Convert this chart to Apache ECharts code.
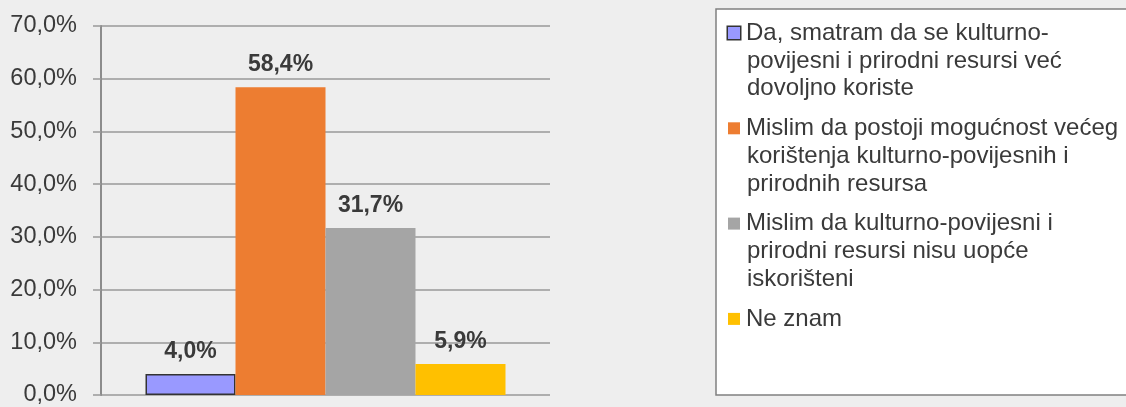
<!DOCTYPE html>
<html>
<head>
<meta charset="utf-8">
<script src="https://cdn.jsdelivr.net/npm/echarts@6/dist/echarts.min.js"></script>
<style>
  html, body { margin: 0; padding: 0; background: #eeeeee; }
  #chart { width: 1126px; height: 407px; }
</style>
</head>
<body>
<div id="chart"></div>
<script>
// odgovori i postoci
var names = [
  'Da, smatram da se kulturno-povijesni i prirodni resursi već dovoljno koriste',
  'Mislim da postoji mogućnost većeg korištenja kulturno-povijesnih i prirodnih resursa',
  'Mislim da kulturno-povijesni i prirodni resursi nisu uopće iskorišteni',
  'Ne znam'
];
// kako se tekst lomi u legendi
var legendLines = [
  ['Da, smatram da se kulturno-', 'povijesni i prirodni resursi već', 'dovoljno koriste'],
  ['Mislim da postoji mogućnost većeg', 'korištenja kulturno-povijesnih i', 'prirodnih resursa'],
  ['Mislim da kulturno-povijesni i', 'prirodni resursi nisu uopće', 'iskorišteni'],
  ['Ne znam']
];
var values = [4.0, 58.4, 31.7, 5.9];
var colors = ['#9999ff', '#ed7d31', '#a5a5a5', '#ffc000'];
var yTicks = [0, 10, 20, 30, 40, 50, 60, 70];

var font = 'Liberation Sans, Arial, sans-serif';
var lh = 27.9;

function pct(v) {
  return v.toFixed(1).replace('.', ',') + '%';
}

var rich = {
  t: { fontSize: 24, lineHeight: lh, color: '#3a3a3a', fontFamily: font },
  g: { width: 6, height: 1, lineHeight: lh },
  p: { width: 19, height: 1, lineHeight: lh }
};
for (var i = 0; i < colors.length; i++) {
  rich['s' + i] = { width: 12, height: 12, lineHeight: lh, backgroundColor: colors[i] };
}
rich.s0.borderColor = '#333';
rich.s0.borderWidth = 1.5;

var series = [];
for (var i = 0; i < names.length; i++) {
  series.push({
    name: names[i],
    type: 'bar',
    barWidth: 90,
    barGap: '0%',
    data: [values[i]],
    itemStyle: i == 0 ? { color: colors[i], borderColor: '#333', borderWidth: 1.5 } : { color: colors[i] },
    label: {
      show: true,
      position: 'top',
      distance: 11,
      fontSize: 23,
      fontWeight: 'bold',
      fontFamily: font,
      color: '#3a3a3a',
      formatter: function (p) { return pct(p.value); }
    }
  });
}

var myChart = echarts.init(document.getElementById('chart'));
myChart.setOption({
  backgroundColor: '#eeeeee',
  animation: false,
  grid: { left: 101, right: 576, top: 26, bottom: 8 },
  xAxis: {
    type: 'category',
    data: [''],
    axisLine: { show: false },
    axisTick: { show: false },
    axisLabel: { show: false }
  },
  yAxis: {
    type: 'value',
    min: yTicks[0],
    max: yTicks[yTicks.length - 1],
    interval: 10,
    axisLine: { show: true, lineStyle: { color: '#8c8c8c', width: 2 } },
    axisTick: { show: true, length: 8, lineStyle: { color: '#999', width: 1.5 } },
    axisLabel: {
      margin: 24,
      fontSize: 23.5,
      color: '#3a3a3a',
      fontFamily: font,
      formatter: function (v) { return pct(v); }
    },
    splitLine: { lineStyle: { color: '#999', width: 1.5 } }
  },
  legend: {
    orient: 'vertical',
    left: 716,
    top: 9,
    padding: [12, 40, 64, 6],
    backgroundColor: '#fff',
    borderColor: '#808080',
    borderWidth: 1.5,
    borderRadius: 0,
    icon: 'none',
    itemWidth: 1,
    itemHeight: 1,
    itemGap: 15.5,
    selectedMode: false,
    textStyle: { rich: rich },
    formatter: function (name) {
      var idx = names.indexOf(name);
      var lines = legendLines[idx];
      var out = [];
      for (var k = 0; k < lines.length; k++) {
        if (k == 0) out.push('{s' + idx + '|}{g|}{t|' + lines[k] + '}');
        else out.push('{p|}{t|' + lines[k] + '}');
      }
      return out.join('\n');
    },
    data: names
  },
  series: series
});
</script>
</body>
</html>
